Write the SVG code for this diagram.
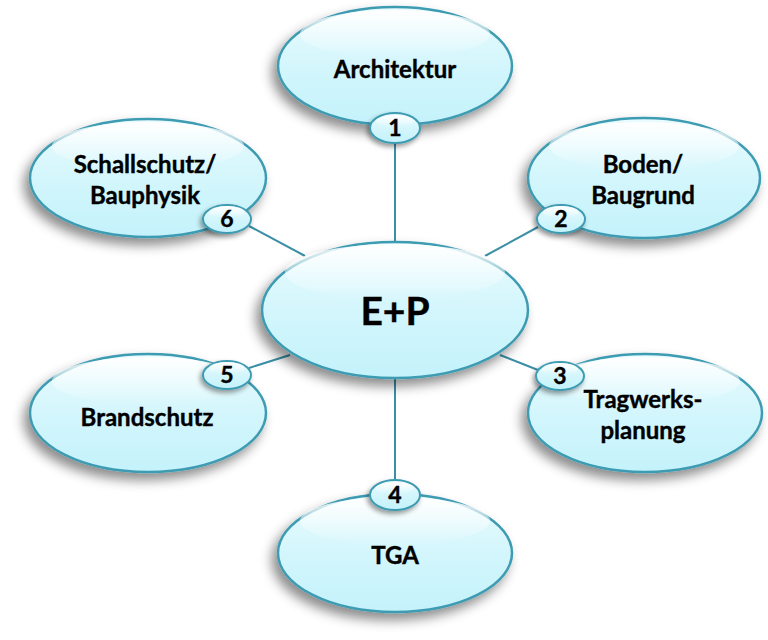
<svg xmlns="http://www.w3.org/2000/svg" width="768" height="640" viewBox="0 0 768 640">
<defs>
<linearGradient id="fill" x1="0" y1="0" x2="0" y2="1">
<stop offset="0" stop-color="#E9FBFE"/>
<stop offset="0.5" stop-color="#D3F6FC"/>
<stop offset="1" stop-color="#C4F2FB"/>
</linearGradient>
<linearGradient id="hi" x1="0" y1="0" x2="0" y2="1">
<stop offset="0" stop-color="#FFFFFF" stop-opacity="0.95"/>
<stop offset="1" stop-color="#FFFFFF" stop-opacity="0"/>
</linearGradient>
<filter id="sh" x="-30%" y="-30%" width="160%" height="170%">
<feDropShadow dx="-5" dy="7" stdDeviation="6" flood-color="#000" flood-opacity="0.45"/>
</filter>
<filter id="shs" x="-40%" y="-40%" width="180%" height="190%">
<feDropShadow dx="-2" dy="3" stdDeviation="2.5" flood-color="#000" flood-opacity="0.4"/>
</filter>
</defs>
<style>
.node{fill:url(#fill);stroke:#3E9BB2;stroke-width:2.5;filter:url(#sh)}
.badge{fill:url(#fill);stroke:#3E9BB2;stroke-width:2;filter:url(#shs)}
.hl{fill:url(#hi);stroke:none}
.t{font-family:Lato,"Open Sans","Liberation Sans",sans-serif;font-weight:700;fill:#000;text-anchor:middle;stroke:#000;stroke-width:0.4}
.lbl{font-size:24px}
.num{font-size:23px}
.conn line{stroke:#3A8FA6;stroke-width:2}
</style>
<g id="connectors" class="conn">
<line x1="395" y1="143" x2="395" y2="245"/>
<line x1="395" y1="376" x2="395" y2="481"/>
<line x1="249" y1="226" x2="305" y2="256"/>
<line x1="538" y1="227" x2="485" y2="256"/>
<line x1="249" y1="368" x2="290" y2="355"/>
<line x1="538" y1="370" x2="500" y2="355"/>
</g>
<g id="center">
<ellipse class="node" cx="395" cy="310" rx="133" ry="68"/>
<ellipse class="hl" cx="395" cy="272" rx="110" ry="28"/>
<text class="t" x="395" y="325" font-size="39">E+P</text>
</g>
<g id="architektur">
<ellipse class="node" cx="395" cy="66" rx="117" ry="59"/>
<ellipse class="hl" cx="395" cy="34" rx="95" ry="24"/>
<text class="t lbl" x="395" y="78">Architektur</text>
</g>
<g id="boden">
<ellipse class="node" cx="644" cy="178" rx="116" ry="60"/>
<ellipse class="hl" cx="644" cy="146" rx="95" ry="24"/>
<text class="t lbl" x="643" y="173">Boden/</text>
<text class="t lbl" x="643" y="204">Baugrund</text>
</g>
<g id="tragwerk">
<ellipse class="node" cx="645" cy="413" rx="117" ry="59"/>
<ellipse class="hl" cx="645" cy="381" rx="95" ry="24"/>
<text class="t lbl" x="643" y="408">Tragwerks-</text>
<text class="t lbl" x="643" y="439">planung</text>
</g>
<g id="tga">
<ellipse class="node" cx="395" cy="553" rx="117" ry="59"/>
<ellipse class="hl" cx="395" cy="521" rx="95" ry="24"/>
<text class="t lbl" x="395" y="564">TGA</text>
</g>
<g id="brandschutz">
<ellipse class="node" cx="148" cy="413" rx="118" ry="59"/>
<ellipse class="hl" cx="148" cy="381" rx="96" ry="24"/>
<text class="t lbl" x="147" y="426">Brandschutz</text>
</g>
<g id="schallschutz">
<ellipse class="node" cx="148" cy="178" rx="118" ry="59"/>
<ellipse class="hl" cx="148" cy="146" rx="96" ry="24"/>
<text class="t lbl" x="145" y="173">Schallschutz/</text>
<text class="t lbl" x="145" y="204">Bauphysik</text>
</g>
<g id="b1">
<ellipse class="badge" cx="395" cy="128" rx="25" ry="15"/>
<ellipse class="hl" cx="395" cy="121" rx="19" ry="6"/>
<text class="t num" x="395" y="136">1</text>
</g>
<g id="b2">
<ellipse class="badge" cx="561" cy="219" rx="24" ry="14"/>
<ellipse class="hl" cx="561" cy="212" rx="18" ry="6"/>
<text class="t num" x="561" y="227">2</text>
</g>
<g id="b3">
<ellipse class="badge" cx="560" cy="376" rx="24" ry="14"/>
<ellipse class="hl" cx="560" cy="369" rx="18" ry="6"/>
<text class="t num" x="560" y="384">3</text>
</g>
<g id="b4">
<ellipse class="badge" cx="395" cy="495" rx="25" ry="15"/>
<ellipse class="hl" cx="395" cy="488" rx="19" ry="6"/>
<text class="t num" x="395" y="503">4</text>
</g>
<g id="b5">
<ellipse class="badge" cx="227" cy="375" rx="24" ry="14"/>
<ellipse class="hl" cx="227" cy="368" rx="18" ry="6"/>
<text class="t num" x="227" y="383">5</text>
</g>
<g id="b6">
<ellipse class="badge" cx="227" cy="219" rx="24" ry="14"/>
<ellipse class="hl" cx="227" cy="212" rx="18" ry="6"/>
<text class="t num" x="227" y="227">6</text>
</g>
</svg>
